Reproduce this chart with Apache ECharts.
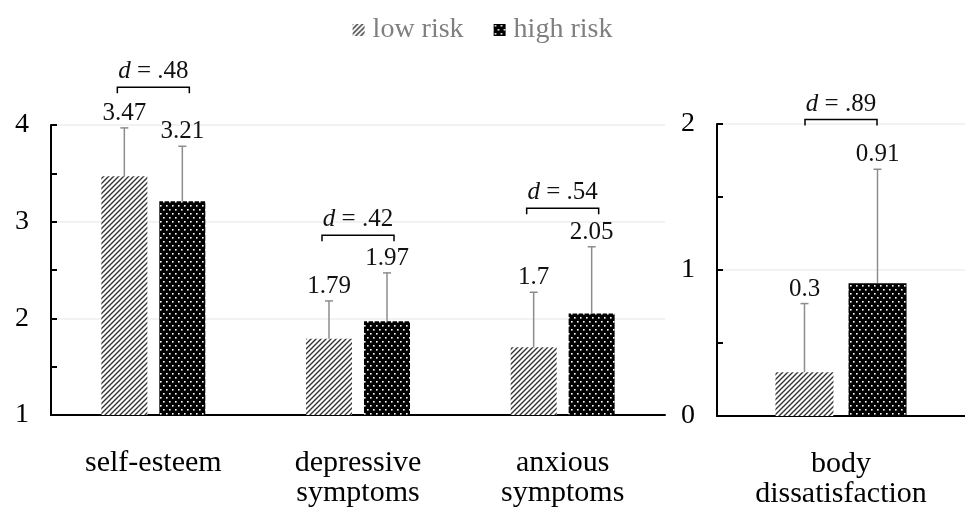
<!DOCTYPE html>
<html>
<head>
<meta charset="utf-8">
<script src="https://cdn.jsdelivr.net/npm/echarts@6/dist/echarts.min.js"></script>
<style>
html, body { margin: 0; padding: 0; background: #fff; }
#chart { width: 965px; height: 508px; }
</style>
</head>
<body>
<div id="chart"></div>
<script>
// data
var leftCats = ['self-esteem', 'depressive\nsymptoms', 'anxious\nsymptoms'];
var rightCats = ['body\ndissatisfaction'];
var lowMean = [3.47, 1.79, 1.7];
var highMean = [3.21, 1.97, 2.05];
var lowSd = [0.50, 0.39, 0.57];
var highSd = [0.57, 0.50, 0.69];
var bodyLowMean = [0.3];
var bodyHighMean = [0.91];
var bodyLowSd = [0.47];
var bodyHighSd = [0.78];
// effect sizes and the height (in axis units) of their brackets
var leftD = ['.48', '.42', '.54'];
var leftDy = [4.39, 2.86, 3.14];
var rightD = ['.89'];
var rightDy = [2.03];

var font = 'Liberation Serif';

var makeStripes = function () {
    var c = document.createElement('canvas');
    c.width = 5; c.height = 5;
    var ctx = c.getContext('2d');
    ctx.fillStyle = '#fff';
    ctx.fillRect(0, 0, 5, 5);
    ctx.strokeStyle = '#333';
    ctx.lineWidth = 1.4;
    ctx.beginPath();
    ctx.moveTo(-1, 6); ctx.lineTo(6, -1);
    ctx.moveTo(-1, 1); ctx.lineTo(1, -1);
    ctx.moveTo(4, 6); ctx.lineTo(6, 4);
    ctx.stroke();
    return c;
};

var makeDots = function () {
    var c = document.createElement('canvas');
    c.width = 6; c.height = 8;
    var ctx = c.getContext('2d');
    ctx.fillStyle = '#000';
    ctx.fillRect(0, 0, 6, 8);
    ctx.fillStyle = '#fff';
    ctx.fillRect(1, 1, 1.6, 1.6);
    ctx.fillRect(4, 5, 1.6, 1.6);
    return c;
};

var lowColor = { image: makeStripes(), repeat: 'repeat' };
var highColor = { image: makeDots(), repeat: 'repeat' };

var toErr = function (means, sds, grp) {
    return means.map(function (m, i) { return [i, m, sds[i], grp]; });
};

var errorItem = function (barW, gap) {
    return function (params, api) {
        var cat = api.value(0), mean = api.value(1), sd = api.value(2), grp = api.value(3);
        var off = (grp === 0 ? -1 : 1) * (barW + gap) / 2;
        var base = api.coord([cat, mean]);
        var top = api.coord([cat, mean + sd]);
        var x = base[0] + off;
        return {
            type: 'group',
            children: [
                { type: 'line', shape: { x1: x, y1: base[1], x2: x, y2: top[1] }, style: { stroke: '#8c8c8c', lineWidth: 1.5 } },
                { type: 'line', shape: { x1: x - 4, y1: top[1], x2: x + 4, y2: top[1] }, style: { stroke: '#8c8c8c', lineWidth: 1.5 } },
                { type: 'text', x: x, y: top[1] - 2, style: { text: String(mean), fontFamily: font, fontSize: 25, fill: '#111', align: 'center', verticalAlign: 'bottom' } }
            ]
        };
    };
};

var bracketItem = function (labels) {
    return function (params, api) {
        var p = api.coord([api.value(0), api.value(1)]);
        var x = p[0], y = p[1], half = 36;
        return {
            type: 'group',
            children: [
                { type: 'polyline', shape: { points: [[x - half, y + 6], [x - half, y], [x + half, y], [x + half, y + 6]] }, style: { stroke: '#000', lineWidth: 1.5, fill: null } },
                { type: 'text', x: x, y: y - 3, style: {
                    text: '{i|d} = ' + labels[params.dataIndex],
                    fontFamily: font, fontSize: 25, fill: '#111', align: 'center', verticalAlign: 'bottom',
                    rich: { i: { fontStyle: 'italic', fontFamily: font, fontSize: 25, fill: '#111' } }
                } }
            ]
        };
    };
};

var yAxisBase = function (gridIndex, min, max) {
    return {
        type: 'value', gridIndex: gridIndex, min: min, max: max, interval: 1,
        axisLine: { show: true, lineStyle: { color: '#000', width: 2 } },
        axisTick: { show: true, inside: true, length: 6, lineStyle: { color: '#000', width: 2 } },
        minorTick: { show: true, splitNumber: 2, length: 6, lineStyle: { color: '#000', width: 2 } },
        axisLabel: { color: '#000', fontFamily: font, fontSize: 28, margin: 22 },
        splitLine: { show: true, lineStyle: { color: '#eeeeee', width: 1.5 } }
    };
};

var xAxisBase = function (gridIndex, data) {
    return {
        type: 'category', gridIndex: gridIndex, data: data,
        axisLine: { show: true, lineStyle: { color: '#000', width: 2 } },
        axisTick: { show: false },
        axisLabel: { color: '#000', fontFamily: font, fontSize: 30, lineHeight: 30, margin: 33, interval: 0 }
    };
};

var chart = echarts.init(document.getElementById('chart'));
var option = {
    animation: false,
    legend: {
        top: 11, left: 'center', itemGap: 30,
        itemWidth: 12, itemHeight: 12, icon: 'rect',
        data: ['low risk', 'high risk'],
        textStyle: { color: '#7f7f7f', fontFamily: font, fontSize: 28, padding: [0, 0, 0, 3] }
    },
    grid: [
        { left: 51, top: 125, width: 614, height: 290, outerBoundsMode: 'none', containLabel: false },
        { left: 717, top: 124, width: 248, height: 292, outerBoundsMode: 'none', containLabel: false }
    ],
    xAxis: [xAxisBase(0, leftCats), xAxisBase(1, rightCats)],
    yAxis: [yAxisBase(0, 1, 4), yAxisBase(1, 0, 2)],
    series: [
        { name: 'low risk', type: 'bar', xAxisIndex: 0, yAxisIndex: 0, data: lowMean, barWidth: 46, barGap: '26%', itemStyle: { color: lowColor } },
        { name: 'high risk', type: 'bar', xAxisIndex: 0, yAxisIndex: 0, data: highMean, barWidth: 46, barGap: '26%', itemStyle: { color: highColor } },
        { name: 'low risk', type: 'bar', xAxisIndex: 1, yAxisIndex: 1, data: bodyLowMean, barWidth: 58, barGap: '26%', itemStyle: { color: lowColor } },
        { name: 'high risk', type: 'bar', xAxisIndex: 1, yAxisIndex: 1, data: bodyHighMean, barWidth: 58, barGap: '26%', itemStyle: { color: highColor } },
        { type: 'custom', xAxisIndex: 0, yAxisIndex: 0, renderItem: errorItem(46, 12), data: toErr(lowMean, lowSd, 0).concat(toErr(highMean, highSd, 1)), z: 5 },
        { type: 'custom', xAxisIndex: 1, yAxisIndex: 1, renderItem: errorItem(58, 15), data: toErr(bodyLowMean, bodyLowSd, 0).concat(toErr(bodyHighMean, bodyHighSd, 1)), z: 5 },
        { type: 'custom', xAxisIndex: 0, yAxisIndex: 0, renderItem: bracketItem(leftD), data: leftDy.map(function (v, i) { return [i, v]; }), z: 5 },
        { type: 'custom', xAxisIndex: 1, yAxisIndex: 1, renderItem: bracketItem(rightD), data: rightDy.map(function (v, i) { return [i, v]; }), z: 5 }
    ]
};
chart.setOption(option);
</script>
</body>
</html>
